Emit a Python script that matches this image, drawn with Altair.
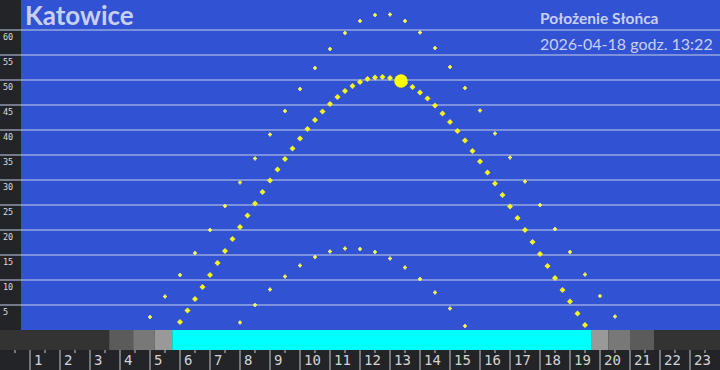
import altair as alt
import pandas as pd

# ---- data ----
today_time = [6.00, 6.25, 6.50, 6.75, 7.00, 7.25, 7.50, 7.75, 8.00, 8.25, 8.50, 8.75,
              9.00, 9.25, 9.50, 9.75, 10.00, 10.25, 10.50, 10.75, 11.00, 11.25, 11.50, 11.75,
              12.00, 12.25, 12.50, 12.75, 13.00, 13.25, 13.50, 13.75, 14.00, 14.25, 14.50, 14.75,
              15.00, 15.25, 15.50, 15.75, 16.00, 16.25, 16.50, 16.75, 17.00, 17.25, 17.50, 17.75,
              18.00, 18.25, 18.50, 18.75, 19.00, 19.25, 19.50]
today_alt = [1.6, 3.9, 6.2, 8.6, 11.0, 13.4, 15.8, 18.2, 20.6, 22.9, 25.3, 27.6,
             29.9, 32.1, 34.2, 36.3, 38.3, 40.2, 42.0, 43.7, 45.2, 46.6, 47.8, 48.8,
             49.6, 50.2, 50.5, 50.6, 50.4, 50.1, 49.4, 48.6, 47.5, 46.3, 44.9, 43.3,
             41.6, 39.8, 37.9, 35.8, 33.7, 31.5, 29.3, 27.0, 24.7, 22.4, 20.0, 17.6,
             15.2, 12.8, 10.4, 8.0, 5.7, 3.3, 1.0]

summer_time = [5.0, 5.5, 6.0, 6.5, 7.0, 7.5, 8.0, 8.5, 9.0, 9.5, 10.0, 10.5, 11.0, 11.5,
               12.0, 12.5, 13.0, 13.5, 14.0, 14.5, 15.0, 15.5, 16.0, 16.5, 17.0, 17.5,
               18.0, 18.5, 19.0, 19.5, 20.0, 20.5]
summer_alt = [2.6, 6.7, 11.0, 15.4, 20.0, 24.8, 29.5, 34.3, 39.1, 43.8, 48.2, 52.4, 56.2, 59.4,
              61.8, 63.0, 63.1, 61.8, 59.5, 56.4, 52.6, 48.4, 43.9, 39.3, 34.5, 29.7,
              25.0, 20.2, 15.6, 11.1, 6.8, 2.7]

winter_time = [8.0, 8.5, 9.0, 9.5, 10.0, 10.5, 11.0, 11.5, 12.0, 12.5, 13.0, 13.5,
               14.0, 14.5, 15.0, 15.5]
winter_alt = [1.5, 5.0, 8.1, 10.7, 12.9, 14.6, 15.7, 16.3, 16.2, 15.6, 14.3, 12.5,
              10.2, 7.5, 4.3, 0.8]

sun_time = [13.367]
sun_alt = [49.8]

band_start = [0.0, 3.64, 4.44, 5.16, 5.74, 19.70, 20.28, 21.00, 21.80]
band_end = [3.64, 4.44, 5.16, 5.74, 19.70, 20.28, 21.00, 21.80, 24.0]
band_color = ["#333333", "#5b5b5b", "#787878", "#999999", "#00ffff",
              "#999999", "#787878", "#5b5b5b", "#333333"]

grid_values = [5, 10, 15, 20, 25, 30, 35, 40, 45, 50, 55, 60]
hour_ticks = list(range(1, 24))
half_ticks = [0.5, 1.5, 2.5, 3.5, 4.5, 5.5, 6.5, 7.5, 8.5, 9.5, 10.5, 11.5, 12.5,
              13.5, 14.5, 15.5, 16.5, 17.5, 18.5, 19.5, 20.5, 21.5, 22.5, 23.5]

title_text = "Katowice"
subtitle_text = "Położenie Słońca"
date_text = "2026-04-18 godz. 13:22"

# ---- scales ----
xs = alt.Scale(domain=[0, 24], range=[0, 720], nice=False, zero=False)
ys = alt.Scale(domain=[-8, 66], range=[370, 0], nice=False, zero=False)

one = pd.DataFrame({"k": [0]})

panel = alt.Chart(one).mark_rect(color="#3152d3").encode(
    x=alt.value(21), x2=alt.value(720), y=alt.value(0), y2=alt.value(330))

bands_df = pd.DataFrame({"s": band_start, "e": band_end, "c": band_color})
bands = alt.Chart(bands_df).mark_rect().encode(
    x=alt.X("s:Q", scale=xs, axis=None), x2="e:Q",
    y=alt.value(330), y2=alt.value(350),
    color=alt.Color("c:N", scale=None))

grid_df = pd.DataFrame({"a": grid_values, "lab": [str(v) for v in grid_values]})
grid = alt.Chart(grid_df).mark_rule(color="#c8d0e8", strokeWidth=1).encode(
    y=alt.Y("a:Q", scale=ys, axis=None), x=alt.value(0), x2=alt.value(720))
grid_labels = alt.Chart(grid_df).mark_text(
    align="left", baseline="top", dx=0, dy=3, font="DejaVu Sans Mono",
    fontSize=8.5, color="#dcdcdc").encode(
    y=alt.Y("a:Q", scale=ys, axis=None), x=alt.value(3), text="lab:N")

ht_df = pd.DataFrame({"h": hour_ticks, "lab": [str(h) for h in hour_ticks]})
hticks = alt.Chart(ht_df).mark_rule(color="#c8c8c8", strokeWidth=1).encode(
    x=alt.X("h:Q", scale=xs, axis=None), y=alt.value(350), y2=alt.value(370))
hlabels = alt.Chart(ht_df).mark_text(
    align="left", baseline="middle", dx=4, font="DejaVu Sans Mono",
    fontSize=14, color="#d4d4d4").encode(
    x=alt.X("h:Q", scale=xs, axis=None), y=alt.value(361), text="lab:N")

half_df = pd.DataFrame({"h": half_ticks})
halfticks = alt.Chart(half_df).mark_rule(color="#c8c8c8", strokeWidth=1).encode(
    x=alt.X("h:Q", scale=xs, axis=None), y=alt.value(350), y2=alt.value(353))

summer_df = pd.DataFrame({"t": summer_time, "a": summer_alt})
winter_df = pd.DataFrame({"t": winter_time, "a": winter_alt})
today_df = pd.DataFrame({"t": today_time, "a": today_alt})
sun_df = pd.DataFrame({"t": sun_time, "a": sun_alt})

def solstice(df):
    return alt.Chart(df).mark_point(
        shape="cross", filled=True, size=16, color="#ffff50", opacity=1).encode(
        x=alt.X("t:Q", scale=xs, axis=None), y=alt.Y("a:Q", scale=ys, axis=None))

today = alt.Chart(today_df).mark_point(
    shape="diamond", filled=True, size=36, color="#f4f41e", opacity=1).encode(
    x=alt.X("t:Q", scale=xs, axis=None), y=alt.Y("a:Q", scale=ys, axis=None))

sun = alt.Chart(sun_df).mark_circle(size=180, color="#ffff00", opacity=1).encode(
    x=alt.X("t:Q", scale=xs, axis=None), y=alt.Y("a:Q", scale=ys, axis=None))

title = alt.Chart(one).mark_text(
    text=title_text, align="left", baseline="alphabetic", font="Lato",
    fontWeight="bold", fontSize=26, color="#c9cff0").encode(
    x=alt.value(25), y=alt.value(25))
subtitle = alt.Chart(one).mark_text(
    text=subtitle_text, align="left", baseline="alphabetic", font="Lato",
    fontWeight="bold", fontSize=15.5, color="#c9cff0").encode(
    x=alt.value(540), y=alt.value(24))
datet = alt.Chart(one).mark_text(
    text=date_text, align="left", baseline="alphabetic", font="Lato",
    fontSize=16, color="#c9cff0").encode(
    x=alt.value(540), y=alt.value(50))

chart = alt.layer(
    panel, bands, grid, grid_labels, halfticks, hticks, hlabels,
    solstice(summer_df), solstice(winter_df), today, sun,
    title, subtitle, datet
).properties(
    width=720, height=370, padding=0, autosize="none", background="#222428"
).configure_view(stroke=None)

chart.save("out.html", embed_options={"renderer": "svg", "actions": False})
